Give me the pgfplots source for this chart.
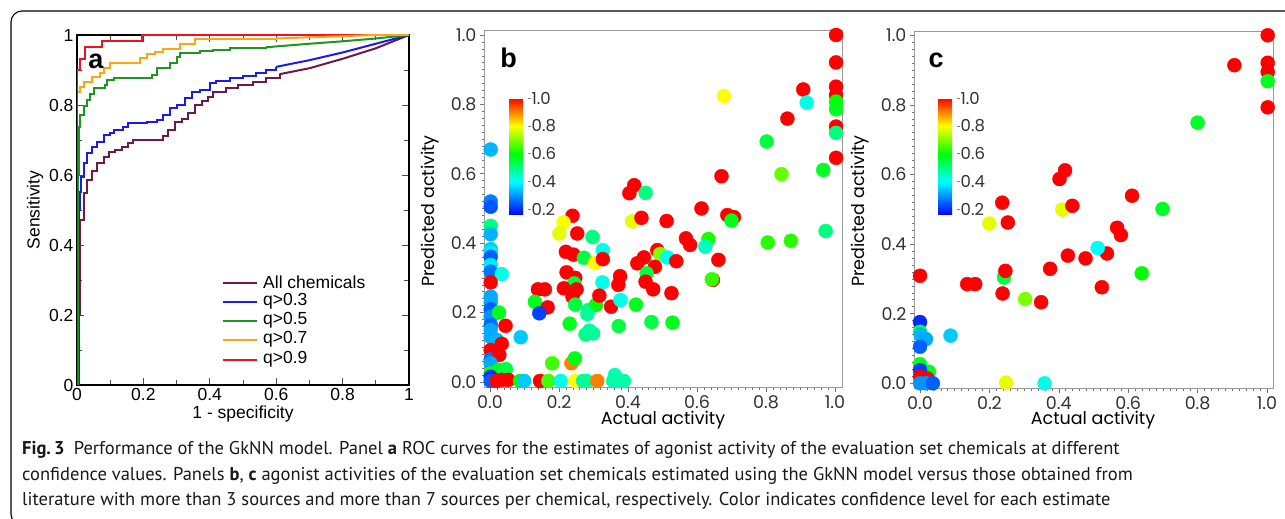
\documentclass[border=0pt]{standalone}
\usepackage{fontspec}
\setmainfont{PT Sans}
\newfontfamily\arial{Liberation Sans}
\newfontfamily\goth{Poppins}
\usepackage{pgfplots}
\pgfplotsset{compat=1.18}

\definecolor{rocpur}{RGB}{110,25,75}
\definecolor{rocblu}{RGB}{25,25,240}
\definecolor{rocgrn}{RGB}{30,150,30}
\definecolor{rocorg}{RGB}{255,165,20}
\definecolor{rocred}{RGB}{235,20,30}

\pgfplotsset{
  scat/.style={
    scale only axis, anchor=south west,
    xtick={0,0.2,0.4,0.6,0.8,1}, ytick={0,0.2,0.4,0.6,0.8,1},
    xticklabels={0.0,0.2,0.4,0.6,0.8,1.0}, yticklabels={0.0,0.2,0.4,0.6,0.8,1.0},
    minor tick num=9, tick align=outside, tick pos=left,
    major tick length=4pt, minor tick length=2pt,
    axis line style={draw=black!40, line width=1pt},
    tick style={black!55, line width=0.6pt},
    tick label style={font=\goth\fontsize{17.5}{19}\selectfont, text=black!80},
    colormap={cb}{rgb255(0cm)=(0,0,255); rgb255(24cm)=(0,255,255); rgb255(44cm)=(0,255,0); rgb255(64cm)=(255,255,0); rgb255(84cm)=(255,0,0)},
    point meta min=0.16, point meta max=1,
    colorbar, colorbar shift/.style={},
  },
  cbar/.style 2 args={colorbar style={
    at={(parent axis.south west)}, anchor=south west, xshift=#1, yshift=#2,
    width=19pt, height=117pt, xtick=\empty,
    ytick={0.2,0.4,0.6,0.8,1}, yticklabels={0.2,0.4,0.6,0.8,1.0},
    ytick pos=right, yticklabel pos=right,
    minor tick num=0, major tick length=3pt, tick align=outside,
    axis line style={draw=none}, tick style={black!50, line width=0.6pt},
    yticklabel style={font=\goth\fontsize{16.5}{18}\selectfont, text=black!80, inner sep=0.5pt}}},
  dots/.style={scatter, only marks, mark=*, mark size=7pt, scatter src=explicit,
    scatter/use mapped color={draw=mapped color, fill=mapped color}},
}

\begin{document}
\begin{tikzpicture}[x=1pt,y=1pt]
\useasboundingbox (0,0) rectangle (1285,519);
\fill[white] (0,0) rectangle (1285,519);
\begin{scope}
\clip (0,0) rectangle (1285,519);
\draw[line width=1.1pt, rounded corners=11pt] (11,-6) rectangle (1330,508);
\end{scope}

% panel a: ROC curves
\begin{axis}[
  at={(77pt,134pt)}, anchor=south west, scale only axis,
  width=332pt, height=350pt,
  xmin=0, xmax=1, ymin=0, ymax=1,
  xtick={0,0.2,0.4,0.6,0.8,1}, ytick={0,0.2,0.4,0.6,0.8,1},
  xticklabels={0,0.2,0.4,0.6,0.8,1}, yticklabels={0,0.2,0.4,0.6,0.8,1},
  minor tick num=1, tick align=inside,
  major tick length=7pt, minor tick length=5pt,
  axis line style={line width=1.2pt},
  tick style={line width=0.9pt, black!70},
  tick label style={font=\arial\fontsize{17.5}{19}\selectfont},
]
\addplot[rocpur, line width=2pt, const plot] coordinates {
 (0,0)(0.005,0.2)(0.008,0.35)(0.01,0.471)(0.02,0.548)(0.03,0.586)(0.045,0.61)
 (0.06,0.633)(0.08,0.652)(0.095,0.667)(0.115,0.67)(0.135,0.681)(0.155,0.69)
 (0.17,0.70)(0.26,0.71)(0.275,0.729)(0.295,0.752)(0.315,0.76)(0.335,0.776)
 (0.355,0.8)(0.375,0.81)(0.395,0.824)(0.41,0.838)(0.45,0.848)(0.485,0.857)
 (0.53,0.867)(0.57,0.876)(0.61,0.888)};
\addplot[rocblu, line width=2pt, const plot] coordinates {
 (0,0)(0.004,0.35)(0.006,0.5)(0.009,0.55)(0.0125,0.595)(0.02,0.633)(0.03,0.662)
 (0.045,0.681)(0.06,0.695)(0.08,0.714)(0.1,0.719)(0.11,0.729)(0.14,0.738)
 (0.155,0.748)(0.21,0.752)(0.24,0.757)(0.26,0.771)(0.28,0.79)(0.30,0.80)
 (0.325,0.819)(0.345,0.838)(0.37,0.843)(0.40,0.862)(0.42,0.869)(0.46,0.876)
 (0.50,0.883)(0.54,0.89)(0.57,0.90)(0.60,0.909)};
\addplot[rocgrn, line width=2pt, const plot] coordinates {
 (0,0)(0.002,0.6)(0.005,0.738)(0.01,0.771)(0.02,0.797)(0.03,0.814)(0.04,0.831)
 (0.05,0.848)(0.085,0.857)(0.09,0.871)(0.11,0.878)(0.225,0.886)(0.24,0.905)
 (0.28,0.919)(0.30,0.938)(0.31,0.948)(0.37,0.955)(0.41,0.958)(0.46,0.962)
 (0.57,0.965)};
\addplot[rocorg, line width=2pt, const plot] coordinates {
 (0,0)(0.001,0.838)(0.008,0.852)(0.02,0.867)(0.045,0.88)(0.068,0.89)(0.08,0.905)
 (0.1,0.921)(0.19,0.933)(0.21,0.945)(0.235,0.952)(0.26,0.959)(0.31,0.973)
 (0.355,0.988)(0.6,0.99)};
\addplot[rocred, line width=2pt, const plot] coordinates {
 (0,0)(0.001,0.90)(0.008,0.93)(0.025,0.965)(0.075,0.983)(0.195,1.0)(1,1)};
\addplot[rocpur, line width=2pt] coordinates {
 (0.61,0.888)(0.7,0.905)(0.8,0.932)(0.9,0.962)(1,1)};
\addplot[rocblu, line width=2pt] coordinates {
 (0.60,0.909)(0.7,0.928)(0.8,0.95)(0.9,0.975)(1,1)};
\addplot[rocgrn, line width=2pt] coordinates {
 (0.57,0.965)(0.7,0.975)(0.8,0.982)(0.9,0.99)(1,1)};
\addplot[rocorg, line width=2pt] coordinates {
 (0.6,0.99)(0.75,0.995)(0.9,1)(1,1)};
\end{axis}
% legend of panel a
\begin{scope}[every node/.style={anchor=west, inner sep=0pt, font=\arial\fontsize{17.5}{19}\selectfont}]
\draw[rocpur, line width=2pt] (223,236) -- (257,236); \node at (263,237) {All chemicals};
\draw[rocblu, line width=2pt] (223,217) -- (257,217); \node at (263,218) {q>0.3};
\draw[rocgrn, line width=2pt] (223,198) -- (257,198); \node at (263,199) {q>0.5};
\draw[rocorg, line width=2pt] (223,179) -- (257,179); \node at (263,180) {q>0.7};
\draw[rocred, line width=2pt] (223,159) -- (257,159); \node at (263,160) {q>0.9};
\end{scope}
\node[font=\arial\bfseries\fontsize{27}{27}\selectfont] at (96,458) {a};
\node[font=\arial\fontsize{17.5}{19}\selectfont] at (243,105) {1 - specificity};
\node[font=\arial\fontsize{17.5}{19}\selectfont, rotate=90] at (35,309) {Sensitivity};

% panel b
\begin{axis}[scat, cbar={25pt}{173pt},
  at={(484pt,131pt)}, width=358pt, height=357pt,
  xmin=-0.0174, xmax=1.0203, ymin=-0.0173, ymax=1.0115]
\addplot[dots] table[meta=c] {
x y c
1.003 1.000 1.0
1.003 0.921 1.0
1.003 0.851 1.0
1.003 0.827 1.0
1.003 0.808 0.6
1.003 0.786 0.58
1.003 0.736 1.0
1.003 0.718 0.5
1.003 0.646 1.0
0.908 0.843 1.0
0.918 0.805 0.42
0.678 0.824 0.8
0.862 0.759 1.0
0.802 0.693 0.55
0.845 0.599 0.68
0.966 0.611 0.57
0.973 0.435 0.5
0.805 0.402 0.63
0.872 0.407 0.63
0.671 0.593 1.0
0.613 0.500 1.0
0.688 0.481 1.0
0.707 0.475 1.0
0.700 0.465 0.58
0.568 0.414 1.0
0.580 0.395 1.0
0.633 0.412 0.62
0.624 0.390 0.45
0.662 0.352 1.0
0.646 0.294 1.0
0.643 0.296 0.64
0.404 0.544 1.0
0.418 0.567 1.0
0.451 0.545 0.5
0.412 0.463 0.78
0.439 0.473 1.0
0.512 0.464 1.0
0.485 0.380 1.0
0.493 0.369 0.7
0.514 0.359 0.42
0.540 0.348 1.0
0.446 0.359 1.0
0.427 0.342 1.0
0.478 0.332 1.0
0.454 0.313 0.55
0.451 0.289 1.0
0.473 0.267 1.0
0.526 0.256 1.0
0.423 0.223 0.58
0.468 0.173 0.55
0.529 0.171 0.58
0.239 0.479 1.0
0.213 0.460 0.8
0.201 0.428 0.78
0.253 0.428 1.0
0.297 0.418 0.5
0.220 0.375 1.0
0.242 0.367 1.0
0.327 0.380 0.42
0.272 0.358 0.55
0.304 0.343 0.8
0.327 0.354 1.0
0.222 0.316 1.0
0.247 0.300 1.0
0.377 0.305 1.0
0.372 0.280 1.0
0.326 0.287 0.42
0.244 0.284 0.55
0.214 0.270 1.0
0.251 0.267 1.0
0.239 0.246 1.0
0.139 0.267 1.0
0.159 0.267 1.0
0.130 0.231 0.58
0.167 0.215 1.0
0.143 0.198 0.22
0.247 0.223 0.55
0.285 0.207 0.5
0.307 0.222 0.6
0.317 0.249 1.0
0.351 0.217 1.0
0.378 0.236 0.42
0.282 0.196 0.48
0.231 0.168 0.58
0.373 0.161 0.55
0.277 0.137 0.5
0.288 0.148 0.48
0.299 0.140 0.48
0.180 0.054 0.65
0.236 0.054 0.9
0.246 0.068 0.58
0.145 0.003 1.0
0.169 0.003 0.65
0.205 0.003 0.42
0.247 0.003 0.8
0.270 0.003 0.48
0.280 0.003 0.48
0.311 0.003 0.9
0.362 0.020 0.45
0.357 0.003 0.47
0.372 0.003 0.47
0.388 0.003 0.47
0.002 0.670 0.33
0.002 0.520 0.28
0.002 0.505 0.24
0.002 0.450 0.5
0.002 0.426 0.33
0.002 0.383 0.35
0.002 0.374 0.38
0.002 0.361 0.25
0.002 0.337 0.38
0.002 0.318 0.27
0.034 0.311 0.42
0.002 0.287 1.0
0.002 0.246 0.32
0.002 0.230 0.32
0.002 0.210 0.25
0.002 0.188 0.3
0.026 0.200 0.58
0.002 0.164 0.26
0.002 0.150 0.32
0.002 0.130 0.32
0.020 0.121 0.33
0.045 0.162 1.0
0.089 0.129 0.35
0.034 0.110 1.0
0.002 0.092 1.0
0.002 0.065 0.27
0.027 0.078 1.0
0.002 0.054 0.32
0.026 0.035 0.58
0.046 0.037 0.55
0.002 0.025 0.58
0.002 0.015 0.2
0.002 0.003 0.25
0.034 0.006 1.0
0.053 0.006 1.0
0.087 0.003 0.6
0.099 0.003 0.35
0.019 0.003 1.0
};
\end{axis}
\node[font=\arial\bfseries\fontsize{27}{27}\selectfont] at (508.5,461) {b};
\node[font=\goth\fontsize{17.5}{19}\selectfont] at (663,99) {Actual activity};
\node[font=\goth\fontsize{17.5}{19}\selectfont, rotate=90] at (430,308) {Predicted activity};

% panel c
\begin{axis}[scat, cbar={24pt}{174pt},
  at={(914pt,130pt)}, width=359pt, height=357pt,
  xmin=-0.0173, xmax=1.0173, ymin=-0.0164, ymax=1.0095]
\addplot[dots] table[meta=c] {
x y c
1.002 1.000 1.0
1.002 0.921 1.0
1.002 0.895 1.0
1.002 0.868 0.58
1.002 0.793 1.0
0.906 0.914 1.0
0.800 0.749 0.57
0.699 0.501 0.57
0.611 0.539 1.0
0.568 0.447 1.0
0.579 0.426 1.0
0.639 0.316 0.6
0.539 0.373 1.0
0.512 0.389 0.4
0.477 0.359 1.0
0.524 0.276 1.0
0.402 0.587 1.0
0.418 0.612 1.0
0.410 0.499 0.78
0.439 0.510 1.0
0.426 0.367 1.0
0.375 0.329 1.0
0.349 0.233 1.0
0.303 0.242 0.7
0.237 0.519 1.0
0.253 0.462 1.0
0.200 0.459 0.78
0.242 0.304 0.55
0.246 0.323 1.0
0.238 0.258 1.0
0.136 0.285 1.0
0.159 0.285 1.0
0.248 0.002 0.78
0.359 0.000 0.42
0.000 0.309 1.0
0.000 0.176 0.2
0.000 0.148 0.55
0.002 0.139 0.33
0.017 0.127 0.32
0.000 0.105 0.25
0.088 0.137 0.35
0.000 0.055 0.58
0.026 0.033 0.58
0.000 0.038 0.22
0.021 0.014 1.0
0.000 0.019 1.0
0.000 0.000 0.3
0.017 0.000 0.3
0.037 0.000 0.25
};
\end{axis}
\node[font=\arial\bfseries\fontsize{27}{27}\selectfont] at (936,458.5) {c};
\node[font=\goth\fontsize{17.5}{19}\selectfont] at (1093,99) {Actual activity};
\node[font=\goth\fontsize{17.5}{19}\selectfont, rotate=90] at (860,308) {Predicted activity};

% caption
\begin{scope}[every node/.style={anchor=base west, inner sep=0pt, font=\fontsize{18.5}{21}\selectfont, text=black!90}]
\node at (22,64) {\textbf{Fig.\,3}\enspace Performance of the GkNN model. Panel \textbf{a} ROC curves for the estimates of agonist activity of the evaluation set chemicals at different};
\node at (22,38) {confidence values. Panels \textbf{b}, \textbf{c} agonist activities of the evaluation set chemicals estimated using the GkNN model versus those obtained from};
\node at (22,13) {literature with more than 3 sources and more than 7 sources per chemical, respectively. Color indicates confidence level for each estimate};
\end{scope}
\end{tikzpicture}
\end{document}
